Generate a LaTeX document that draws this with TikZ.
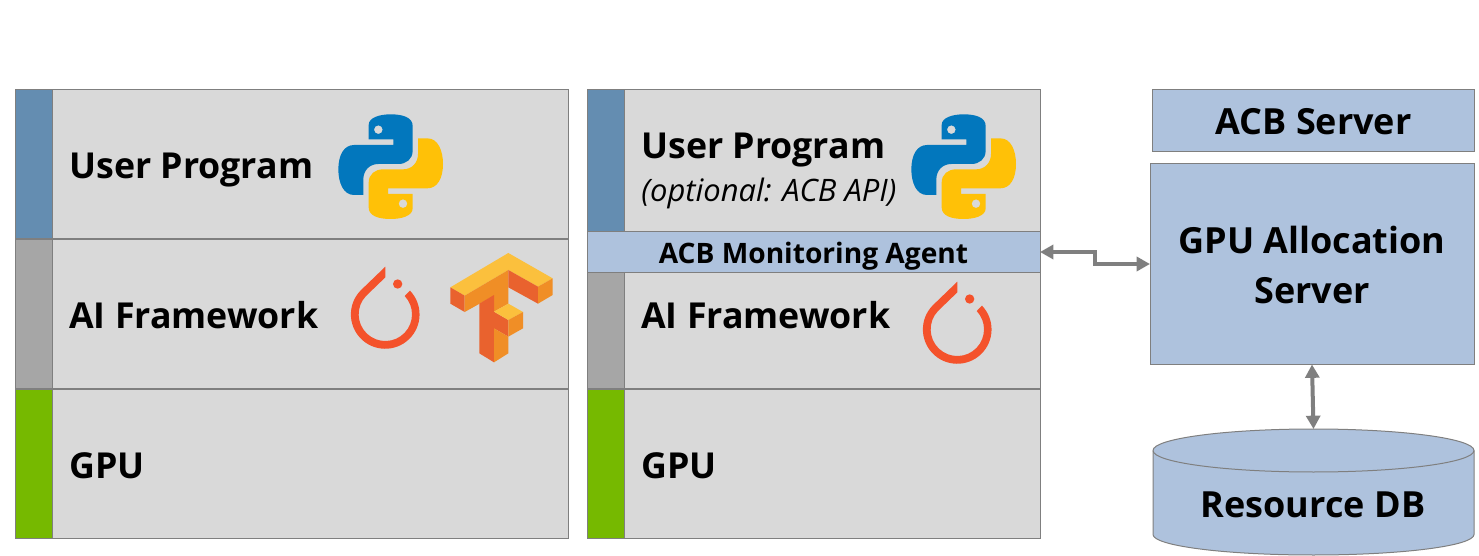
\documentclass[tikz,border=0pt]{standalone}
\usepackage{fontspec}
\setmainfont{Open Sans}
\usetikzlibrary{arrows.meta,calc}
\definecolor{boxgray}{HTML}{D9D9D9}
\definecolor{edgegray}{HTML}{7F7F7F}
\definecolor{acb}{HTML}{AEC2DD}
\definecolor{stripblue}{HTML}{648DB1}
\definecolor{stripgray}{HTML}{A6A6A6}
\definecolor{stripgreen}{HTML}{76B900}
\definecolor{pyblue}{HTML}{0277BD}
\definecolor{pyyellow}{HTML}{FFC107}
\definecolor{torch}{HTML}{F4522B}
\definecolor{tfy}{HTML}{FBC03D}
\definecolor{tfm}{HTML}{F08E26}
\definecolor{tfd}{HTML}{E9622E}
\newcommand{\pxu}{0.75pt}
\tikzset{
  x=0.75pt,y=-0.75pt,
  box/.style={draw=edgegray,line width=0.75pt,inner sep=0pt,outer sep=0pt,anchor=north west},
  graybox/.style={box,fill=boxgray},
  acbbox/.style={box,fill=acb},
  strip/.style={box,minimum width=37*\pxu},
  lbl/.style={font=\bfseries\fontsize{26.8pt}{30pt}\selectfont,anchor=base west,inner sep=0pt},
  clbl/.style={font=\bfseries\fontsize{27pt}{30pt}\selectfont,anchor=base,inner sep=0pt},
  link/.style={draw=edgegray,line width=3pt,{Triangle[width=10.5pt,length=10pt]}-{Triangle[width=10.5pt,length=10pt]}},
  pics/python/.style={code={
    \begin{scope}[x=0.25pt,y=-0.25pt]
    \foreach \flip/\col in {0/pyblue,180/pyyellow}{
      \begin{scope}[rotate around={\flip:(182,200)}]
      \fill[\col,even odd rule] (116,118) -- (116,75) .. controls (116,52) and (150,43) .. (182,43)
        .. controls (218,43) and (248,52) .. (248,78) -- (248,152) .. controls (248,178) and (228,192) .. (205,192)
        -- (145,192) .. controls (118,192) and (100,212) .. (100,238) -- (100,285) -- (72,285)
        .. controls (40,285) and (25,248) .. (25,208) .. controls (25,165) and (42,135) .. (72,135)
        -- (190,135) -- (190,118) -- cycle
        (145,89) circle[radius=13];
      \end{scope}
    }
    \end{scope}
  }},
  pics/torch/.style={code={
    \begin{scope}[x=0.25pt,y=-0.25pt]
    \fill[torch] (136,65) -- (136,97) -- (78,153)
      arc[start angle=223.5,end angle=-43.4,radius=80] -- (210,137)
      arc[start angle=-43.8,end angle=224.6,radius=103] -- cycle;
    \fill[torch] (173,117) circle[radius=14];
    \end{scope}
  }},
  pics/tflow/.style={code={
    \begin{scope}[x=0.25pt,y=-0.25pt]
    \fill[tfy] (331,127) -- (505,24) -- (638,100) -- (594,125) -- (505,75) -- (374,152) -- cycle;
    \fill[tfd] (331,127) -- (374,152) -- (374,201) -- (331,176) -- cycle;
    \fill[tfm] (374,152) -- (505,75) -- (505,176) -- (462,200) -- (462,152) -- (374,201) -- cycle;
    \fill[tfd] (418,176) -- (462,150) -- (462,200) -- (505,225) -- (505,275) -- (462,250) -- (462,352) -- (418,325) -- cycle;
    \fill[tfm] (462,250) -- (505,275) -- (505,325) -- (462,352) -- cycle;
    \fill[tfy] (462,200) -- (505,176) -- (549,201) -- (505,225) -- cycle;
    \fill[tfm] (505,225) -- (549,201) -- (549,250) -- (505,275) -- cycle;
    \fill[tfd] (505,75) -- (594,125) -- (594,176) -- (505,127) -- cycle;
    \fill[tfm] (594,125) -- (638,100) -- (638,150) -- (594,176) -- cycle;
    \end{scope}
  }},
}
\begin{document}
\begin{tikzpicture}
\useasboundingbox (0,0) rectangle (1479,556);
% left stack
\node[strip,fill=stripblue,minimum height=148.5*\pxu] (ls1) at (15,90) {};
\node[strip,fill=stripgray,minimum height=148.5*\pxu] (ls2) at (15,239.5) {};
\node[strip,fill=stripgreen,minimum height=148.5*\pxu] (ls3) at (15,389.5) {};
\node[graybox,minimum width=516*\pxu,minimum height=148.5*\pxu] (lu) at (52,90) {};
\node[graybox,minimum width=516*\pxu,minimum height=148.5*\pxu] (la) at (52,239.5) {};
\node[graybox,minimum width=516*\pxu,minimum height=148.5*\pxu] (lg) at (52,389.5) {};
\node[lbl] (lut) at (69,178.5) {User Program};
\node[lbl] (lat) at (69,328) {AI Framework};
\node[lbl] (lgt) at (69,478) {GPU};
% middle stack
\node[strip,fill=stripblue,minimum height=142*\pxu] (ms1) at (587,90) {};
\node[strip,fill=stripgray,minimum height=116*\pxu] (ms2) at (587,272) {};
\node[strip,fill=stripgreen,minimum height=148.5*\pxu] (ms3) at (587,389.5) {};
\node[graybox,minimum width=416*\pxu,minimum height=142*\pxu] (mu) at (624,90) {};
\node[graybox,minimum width=416*\pxu,minimum height=116*\pxu] (ma) at (624,272) {};
\node[graybox,minimum width=416*\pxu,minimum height=148.5*\pxu] (mg) at (624,389.5) {};
\node[acbbox,minimum width=453*\pxu,minimum height=41*\pxu] (agent) at (587,231.5) {};
\node[font=\bfseries\fontsize{21.1pt}{24pt}\selectfont,inner sep=0pt,anchor=base] (agentt) at (813.5,263) {ACB Monitoring Agent};
\node[lbl] (mut) at (641,158.5) {User Program};
\node[font=\itshape\fontsize{23.2pt}{26pt}\selectfont,anchor=base west,inner sep=0pt] (mot) at (641,202) {(optional: ACB API)};
\node[lbl] (mat) at (641,328) {AI Framework};
\node[lbl] (mgt) at (641,478) {GPU};
% right
\node[acbbox,minimum width=322*\pxu,minimum height=62*\pxu] (srv) at (1152,89.5) {};
\node[clbl] (srvt) at (1313.5,134.5) {ACB Server};
\node[acbbox,minimum width=324*\pxu,minimum height=201*\pxu] (alloc) at (1150,163.5) {};
\node[clbl] (alloct) at (1312,253) {GPU Allocation};
\node[clbl] (alloct2) at (1312,304) {Server};
% database
\node[inner sep=0pt,outer sep=0pt,anchor=north west,minimum width=321*\pxu,minimum height=126*\pxu] (db) at (1153,429) {};
\path[fill=acb,draw=edgegray,line width=0.75pt]
  ($(db.north west)+(0,21.5)$) -- ($(db.south west)+(0,-20.5)$)
  arc[start angle=180,end angle=0,x radius=160.5,y radius=20.5]
  -- ($(db.north east)+(0,21.5)$)
  arc[start angle=0,end angle=-180,x radius=160.5,y radius=21.5] -- cycle;
\draw[edgegray,line width=0.75pt] ($(db.north west)+(0,21.5)$)
  arc[start angle=180,end angle=0,x radius=160.5,y radius=21.5];
\node[clbl] (dbt) at (1313,517) {Resource DB};
% icons
\pic at (330,100) {python};
\pic at (903,100) {python};
\pic at (340,245) {torch};
\pic at (912,260) {torch};
\pic at (340,245) {tflow};
% connectors
\coordinate (elbow) at (1095,258);
\draw[link] (agent.east) -| (elbow) |- (alloc.west);
\draw[link] (alloc.south) -- (db.north);
\end{tikzpicture}
\end{document}
